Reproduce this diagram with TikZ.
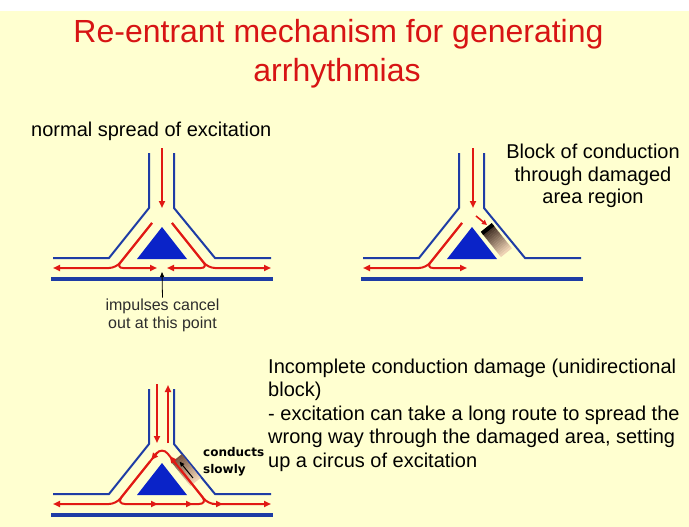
\documentclass[tikz,border=0pt]{standalone}
\usepackage{fontspec}
\setmainfont{Liberation Sans}
\newfontfamily\boldsansfont{DejaVu Sans}
\usetikzlibrary{arrows.meta,calc}
\definecolor{bgyellow}{RGB}{255,255,208}
\definecolor{titlered}{RGB}{215,20,20}
\definecolor{wallblue}{RGB}{30,60,165}
\definecolor{triblue}{RGB}{10,35,200}
\definecolor{impred}{RGB}{225,25,20}
\definecolor{gdark}{RGB}{60,42,32}
\definecolor{gmid}{RGB}{120,85,65}
\definecolor{glight}{RGB}{238,210,180}
\definecolor{notegray}{RGB}{45,45,45}
\begin{document}
\begin{tikzpicture}[x=1pt,y=-1pt,
  wall/.style={draw=wallblue,line width=2pt},
  basewall/.style={draw=wallblue,line width=4pt},
  imp/.style={draw=impred,line width=2pt,rounded corners=7pt},
  rtip/.style={-{Triangle[length=7pt,width=6pt]}},
  stip/.style={-{Triangle[length=5pt,width=5pt]}},
  ktip/.style={-{Triangle[length=5pt,width=4pt]}},
  txt/.style={inner sep=0pt,font=\fontsize{20}{24}\selectfont,anchor=base},
  ttl/.style={inner sep=0pt,font=\fontsize{32}{38}\selectfont,text=titlered,anchor=base},
  note/.style={inner sep=0pt,font=\fontsize{16}{19}\selectfont,text=notegray,anchor=base},
  boldnote/.style={inner sep=0pt,font=\boldsansfont\bfseries\fontsize{12}{14}\selectfont,anchor=base west},
  junction/.pic={
    \draw[wall] (53,258) -- (109,258) -- (149,208) -- (149,153);
    \draw[wall] (271,258) -- (215,258) -- (174,208) -- (174,153);
    \draw[basewall] (51,279) -- (273,279);
    \fill[triblue] (162,227) -- (187,259) -- (137,259) -- cycle;
  }]
\useasboundingbox (0,0) rectangle (689,527);
\fill[white] (0,0) rectangle (689,527);
\fill[bgyellow] (0,11) rectangle (689,527);

% titles
\node[ttl] (title1) at (338.5,43) {Re-entrant mechanism for generating};
\node[ttl] (title2) at (337,82) {arrhythmias};

% ---------- diagram 1: normal spread ----------
\node[txt,anchor=base west] (normal) at (31,136) {normal spread of excitation};
\pic at (0,0) {junction};
\draw[impred,line width=2pt,rtip] (162,148) -- (162,208);
\draw[imp,rtip] (152,223) -- (116,268) -- (53,268);
\draw[imp,rtip] (152,223) -- (116,268) -- (157,268);
\draw[imp,rtip] (172,223) -- (208,268) -- (271,268);
\draw[imp,rtip] (172,223) -- (208,268) -- (167,268);
\node[note] (imp1) at (162.5,310) {impulses cancel};
\node[note] (imp2) at (162.5,328) {out at this point};
\coordinate (cancel) at (162,272);
\draw[black,line width=0.8pt,ktip] (imp1.north) ++(0,-0.5) -- (cancel);

% ---------- diagram 2: block ----------
\node[txt] (blk1) at (593,158) {Block of conduction};
\node[txt] (blk2) at (593,181) {through damaged};
\node[txt] (blk3) at (593,204) {area region};
\pic at (310,0) {junction};
\draw[impred,line width=2pt,rtip] (473,148) -- (473,208);
\draw[imp,rtip] (462,223) -- (426,268) -- (363,268);
\draw[imp,rtip] (462,223) -- (426,268) -- (467,268);
\begin{scope}[shift={(487.5,229)},rotate=-51.34]
  \foreach \i in {0,...,14}{
    \pgfmathsetmacro\ta{2*\i}
    \pgfmathsetmacro\tb{2*\i+2.3}
    \pgfmathsetmacro\mx{100-\i*100/14}
    \fill[gdark!\mx!glight] (\ta,-7) -- (\tb,-7) -- (\tb,7) -- (\ta,7) -- cycle;
  }
\end{scope}
\draw[black,line width=4pt] (482,233.4) -- (493,224.6);
\draw[impred,line width=1.6pt,stip] (476,216) -- (487,225);

% ---------- diagram 3: unidirectional block ----------
\node[txt,anchor=base west] (inc1) at (268,373) {Incomplete conduction damage (unidirectional};
\node[txt,anchor=base west] (inc2) at (268,396.5) {block)};
\node[txt,anchor=base west] (inc3) at (268,420) {- excitation can take a long route to spread the};
\node[txt,anchor=base west] (inc4) at (268,443.5) {wrong way through the damaged area, setting};
\node[txt,anchor=base west] (inc5) at (268,467) {up a circus of excitation};
\pic at (0,236) {junction};
\begin{scope}[shift={(176.6,458.3)},rotate=-51.34]
  \foreach \i in {0,...,14}{
    \pgfmathsetmacro\ta{2*\i}
    \pgfmathsetmacro\tb{2*\i+2.3}
    \pgfmathsetmacro\mx{100-\i*100/14}
    \fill[gmid!\mx!glight] (\ta,-6.5) -- (\tb,-6.5) -- (\tb,6.5) -- (\ta,6.5) -- cycle;
  }
\end{scope}
\draw[impred,line width=2pt,rtip] (157,384) -- (157,443);
\draw[impred,line width=2pt,rtip] (168,443) -- (168,385);
\draw[imp,rounded corners=9pt] (162,504) -- (208,504) -- (162,446.5) -- (116,504) -- cycle;
\draw[imp,rtip] (150,461.5) -- (116,504) -- (53,504);
\draw[imp,rtip] (180,469) -- (208,504) -- (271,504);
\draw[impred,line width=2pt,rtip] (147,504) -- (158,504);
\draw[impred,line width=2pt,rtip] (182,504) -- (193,504);
\draw[impred,line width=2pt,rtip] (212,504) -- (223,504);
\draw[impred,line width=2pt,rtip] (176.2,464.3) -- (169.6,456);
\draw[impred,line width=2pt,rtip] (157.2,452.5) -- (151.2,460);
\draw[black,line width=1pt,ktip] (193,478) -- (179.5,461.5);
\node[boldnote] (cond1) at (203,456) {conducts};
\node[boldnote] (cond2) at (203,473) {slowly};
\end{tikzpicture}
\end{document}
